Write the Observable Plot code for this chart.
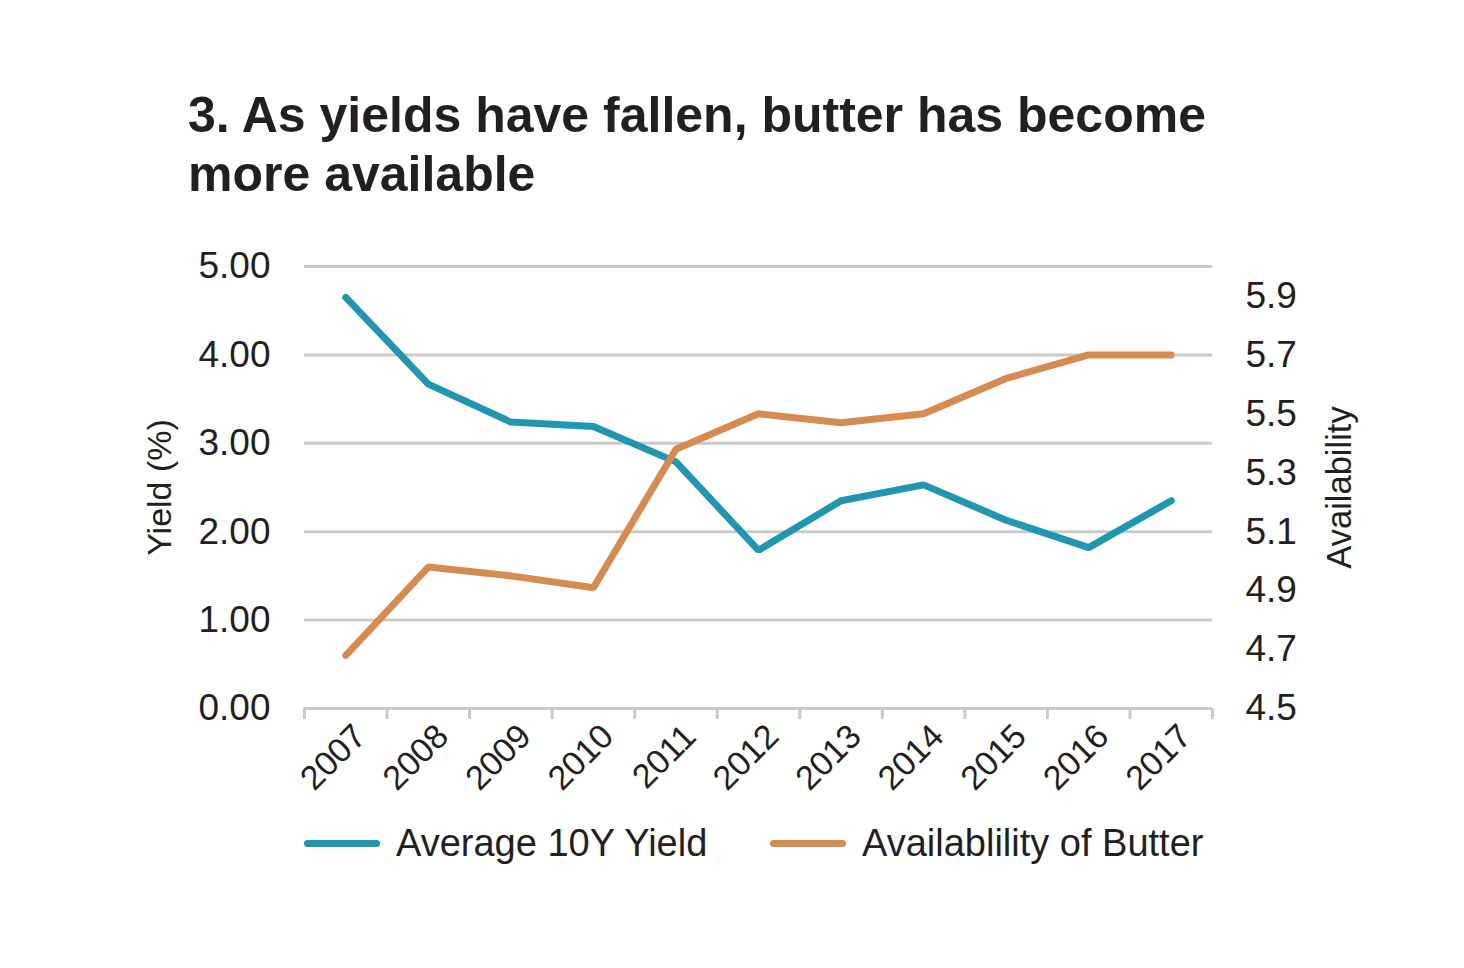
<!DOCTYPE html>
<html>
<head>
<meta charset="utf-8">
<script src="https://cdn.jsdelivr.net/npm/d3@7"></script>
<script src="https://cdn.jsdelivr.net/npm/@observablehq/plot@0.6"></script>
<style>
  html, body { margin: 0; padding: 0; background: #fff; }
  body { width: 1464px; height: 968px; position: relative; overflow: hidden;
         font-family: "Liberation Sans", Arial, Helvetica, sans-serif; color: #231f20; }
  #title { position: absolute; left: 188px; top: 86px; width: 1100px;
           font-size: 50px; font-weight: bold; line-height: 59px; color: #231f20; }
  #chart { position: absolute; left: 0; top: 220px; }
  .leg { position: absolute; top: 821px; height: 44px; display: flex; align-items: center; font-size: 38px; }
  .sw { display: inline-block; width: 76px; height: 7px; border-radius: 3.5px; margin-right: 16px; }
</style>
</head>
<body>
<div id="title">3. As yields have fallen, butter has become more available</div>
<div id="chart"></div>
<div class="leg" style="left:304px"><span class="sw" style="background:#2196b0"></span><span>Average 10Y Yield</span></div>
<div class="leg" style="left:770px"><span class="sw" style="background:#d68b50"></span><span>Availablility of Butter</span></div>
<script>
const years = [2007, 2008, 2009, 2010, 2011, 2012, 2013, 2014, 2015, 2016, 2017];
const yieldValues = [4.65, 3.67, 3.24, 3.19, 2.79, 1.79, 2.35, 2.53, 2.13, 1.82, 2.35];
const butterValues = [4.68, 4.98, 4.95, 4.91, 5.38, 5.50, 5.47, 5.50, 5.62, 5.70, 5.70];
const leftTicks = [0, 1, 2, 3, 4, 5];
const rightTicks = [4.5, 4.7, 4.9, 5.1, 5.3, 5.5, 5.7, 5.9];
const rightDomain = [4.5, 6.0];
const leftDomain = [0, 5];

const toLeft = v => leftDomain[0] + (v - rightDomain[0]) / (rightDomain[1] - rightDomain[0]) * (leftDomain[1] - leftDomain[0]);
const fromLeft = v => rightDomain[0] + (v - leftDomain[0]) / (leftDomain[1] - leftDomain[0]) * (rightDomain[1] - rightDomain[0]);

const yieldData = years.map((y, i) => ({year: y, value: yieldValues[i]}));
const butterData = years.map((y, i) => ({year: y, value: toLeft(butterValues[i])}));
const halfYears = [...years.map(y => y - 0.5), years[years.length - 1] + 0.5];

const grid = "#cbcbc6";
const ink = "#231f20";

const chart = Plot.plot({
  width: 1464,
  height: 600,
  marginTop: 46,
  marginBottom: 112,
  marginLeft: 304,
  marginRight: 252,
  style: {fontFamily: "'Liberation Sans', Arial, Helvetica, sans-serif", color: ink, background: "transparent"},
  x: {domain: [halfYears[0], halfYears[halfYears.length - 1]]},
  y: {domain: leftDomain},
  marks: [
    Plot.ruleY(leftTicks, {stroke: grid, strokeWidth: 3}),
    Plot.axisX({ticks: halfYears, tickFormat: () => "", tickSize: 11, stroke: grid, strokeWidth: 3, label: null}),
    Plot.text(years, {x: d => d, text: d => String(d), frameAnchor: "bottom", rotate: -45, textAnchor: "end", dx: 22, dy: 30, fontSize: 34, fill: ink}),
    Plot.axisY({anchor: "left", ticks: leftTicks, tickFormat: d => d.toFixed(2), tickSize: 0, tickPadding: 34, fontSize: 37, fill: ink, label: null}),
    Plot.axisY({anchor: "right", ticks: rightTicks.map(toLeft), tickFormat: d => fromLeft(d).toFixed(1), tickSize: 0, tickPadding: 33, fontSize: 37, fill: ink, label: null}),
    Plot.text(["Yield (%)"], {frameAnchor: "left", textAnchor: "middle", rotate: -90, dx: -144, fontSize: 34, fill: ink}),
    Plot.text(["Availability"], {frameAnchor: "right", textAnchor: "middle", rotate: -90, dx: 127, fontSize: 34.5, fill: ink}),
    Plot.line(yieldData, {x: "year", y: "value", stroke: "#2196b0", strokeWidth: 7, strokeLinecap: "round", strokeLinejoin: "miter"}),
    Plot.line(butterData, {x: "year", y: "value", stroke: "#d68b50", strokeWidth: 7, strokeLinecap: "round", strokeLinejoin: "miter"})
  ]
});
document.getElementById("chart").appendChild(chart);
</script>
</body>
</html>
